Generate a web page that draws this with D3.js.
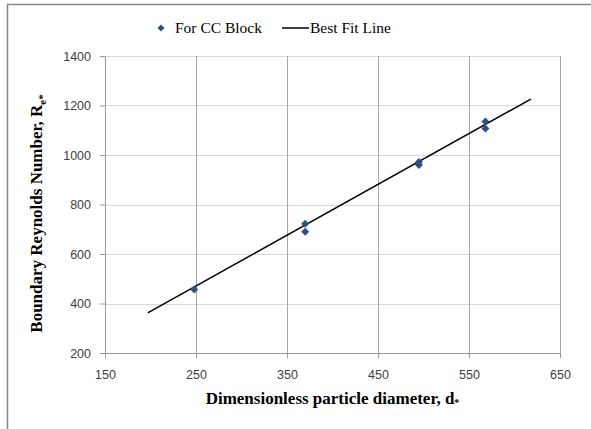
<!DOCTYPE html>
<meta charset="utf-8">
<style>
body { margin: 0; background: #fff; }
.tick text { font-family: "Liberation Sans", Arial, sans-serif; font-size: 12.5px; fill: #404040; }
.axis-title { font-family: "Liberation Serif", "Times New Roman", serif; font-weight: bold; font-size: 17px; }
.legend text { font-family: "Liberation Serif", "Times New Roman", serif; font-size: 15.5px; }
</style>
<body>
<script src="https://d3js.org/d3.v7.min.js"></script>
<script>
// data
var dStar = [248, 370, 370, 495, 495, 568, 568];
var reNum = [457, 690, 722, 960, 972, 1107, 1135];
var fitX = [197, 618];
var fitY = [362, 1226];
var xTicks = [150, 250, 350, 450, 550, 650];
var yTicks = [200, 400, 600, 800, 1000, 1200, 1400];

var W = 591, H = 429;
var margin = {top: 56, right: 31, bottom: 76, left: 105},
    width = W - margin.left - margin.right,
    height = H - margin.top - margin.bottom;

var x = d3.scaleLinear().domain([150, 650]).range([0, width]);
var y = d3.scaleLinear().domain([200, 1400]).range([height, 0]);

var root = d3.select("body").append("svg")
    .attr("width", W)
    .attr("height", H);

// outer chart frame (only left/top show in the crop)
root.append("path")
    .attr("d", "M7.5," + H + "V4.5H" + W)
    .attr("fill", "none")
    .attr("stroke", "#888")
    .attr("stroke-width", 1.5);

var svg = root.append("g")
    .attr("transform", "translate(" + margin.left + "," + margin.top + ")");

// horizontal gridlines
svg.selectAll(".hgrid")
    .data(yTicks.slice(1))
  .enter().append("line")
    .attr("x1", 0).attr("x2", width)
    .attr("y1", function(d) { return Math.round(y(d)) + 0.5; })
    .attr("y2", function(d) { return Math.round(y(d)) + 0.5; })
    .attr("stroke", "#d9d9d9");

// vertical gridlines
svg.selectAll(".vgrid")
    .data(xTicks.slice(1))
  .enter().append("line")
    .attr("x1", function(d) { return Math.round(x(d)) + 0.5; })
    .attr("x2", function(d) { return Math.round(x(d)) + 0.5; })
    .attr("y1", 0).attr("y2", height)
    .attr("stroke", "#a6a6a6");

// axes
var xAxis = svg.append("g")
    .attr("transform", "translate(0," + height + ")")
    .call(d3.axisBottom(x).tickValues(xTicks).tickFormat(d3.format("d")).tickSize(5).tickPadding(12));
var yAxis = svg.append("g")
    .call(d3.axisLeft(y).tickValues(yTicks).tickFormat(d3.format("d")).tickSize(5).tickPadding(9));
[xAxis, yAxis].forEach(function(a) {
  a.select(".domain").attr("stroke", "#999");
  a.selectAll(".tick line").attr("stroke", "#999");
});

// best fit line
svg.append("path")
    .datum(fitX.map(function(v, i) { return [v, fitY[i]]; }))
    .attr("fill", "none")
    .attr("stroke", "#000")
    .attr("stroke-width", 1.5)
    .attr("d", d3.line()
      .x(function(d) { return x(d[0]); })
      .y(function(d) { return y(d[1]); }));

// data points (square diamond like Excel)
var diamond = "M0,-4L4,0L0,4L-4,0Z";
svg.selectAll(".pt")
    .data(dStar.map(function(v, i) { return [v, reNum[i]]; }))
  .enter().append("path")
    .attr("d", diamond)
    .attr("transform", function(d) { return "translate(" + x(d[0]) + "," + y(d[1]) + ")"; })
    .attr("fill", "#2b5287");

// axis titles
svg.append("text")
    .attr("class", "axis-title")
    .attr("x", width / 2)
    .attr("y", height + 51)
    .attr("text-anchor", "middle")
    .html("Dimensionless particle diameter, d<tspan font-size='10' dy='2'>*</tspan>");
svg.append("text")
    .attr("class", "axis-title")
    .attr("transform", "translate(-63," + (height / 2 + 9) + ") rotate(-90)")
    .attr("text-anchor", "middle")
    .html("Boundary Reynolds Number, R<tspan font-size='11' dy='4'>e*</tspan>");

// legend
var legend = root.append("g").attr("class", "legend");
legend.append("path")
    .attr("d", "M0,-3.5L3.5,0L0,3.5L-3.5,0Z")
    .attr("transform", "translate(161,28)")
    .attr("fill", "#2b5287");
legend.append("text").attr("x", 175).attr("y", 33).text("For CC Block");
legend.append("line")
    .attr("x1", 282).attr("x2", 309).attr("y1", 28).attr("y2", 28)
    .attr("stroke", "#000").attr("stroke-width", 1.5);
legend.append("text").attr("x", 310).attr("y", 33).text("Best Fit Line");
</script>
</body>
